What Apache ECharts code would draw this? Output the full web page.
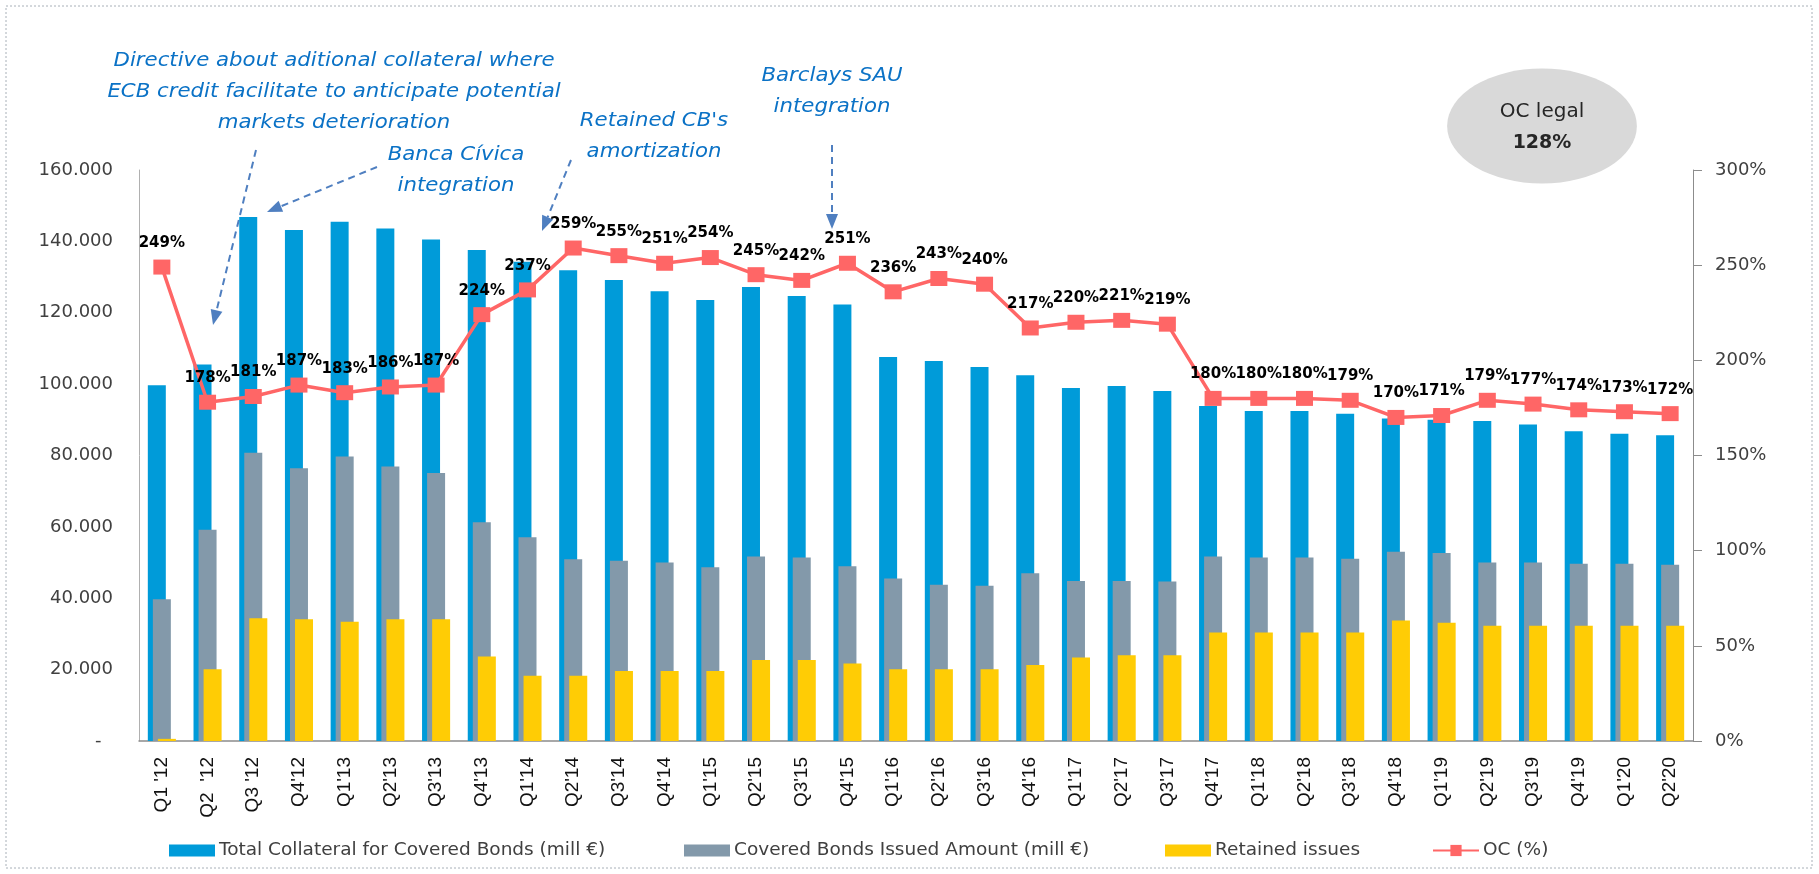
<!DOCTYPE html>
<html>
<head>
<meta charset="utf-8">
<title>Covered Bonds collateral</title>
<script src="https://cdn.jsdelivr.net/npm/echarts@6/dist/echarts.min.js"></script>
<style>
  html, body { margin: 0; padding: 0; background: #fff; }
  #chart { width: 1819px; height: 874px; }
</style>
</head>
<body>
<div id="chart"></div>
<script>
// quarters on the x axis
const categories = ["Q1 '12", "Q2  '12", "Q3 '12", "Q4'12", "Q1'13", "Q2'13", "Q3'13", "Q4'13",
  "Q1'14", "Q2'14", "Q3'14", "Q4'14", "Q1'15", "Q2'15", "Q3'15", "Q4'15",
  "Q1'16", "Q2'16", "Q3'16", "Q4'16", "Q1'17", "Q2'17", "Q3'17", "Q4'17",
  "Q1'18", "Q2'18", "Q3'18", "Q4'18", "Q1'19", "Q2'19", "Q3'19", "Q4'19",
  "Q1'20", "Q2'20"];

// mill €
const totalCollateral = [99700, 105500, 146800, 143200, 145500, 143600, 140500, 137600,
  134300, 131900, 129200, 126000, 123600, 127200, 124700, 122300,
  107600, 106500, 104800, 102500, 98900, 99500, 98100, 93900,
  92500, 92500, 91700, 90400, 90000, 89700, 88700, 86800,
  86100, 85700];

const issuedAmount = [39700, 59200, 80800, 76400, 79700, 76900, 75100, 61300,
  57100, 50900, 50500, 50000, 48700, 51700, 51400, 49000,
  45500, 43800, 43500, 47000, 44800, 44800, 44700, 51700,
  51400, 51400, 51100, 53000, 52700, 50000, 50000, 49700,
  49700, 49400];

const retainedIssues = [600, 20100, 34400, 34100, 33400, 34100, 34100, 23700,
  18300, 18300, 19600, 19600, 19600, 22700, 22700, 21700,
  20100, 20100, 20100, 21300, 23400, 24000, 24000, 30400,
  30400, 30400, 30400, 33800, 33100, 32300, 32300, 32300,
  32300, 32300];

// OC (%)
const ocPct = [249, 178, 181, 187, 183, 186, 187, 224,
  237, 259, 255, 251, 254, 245, 242, 251,
  236, 243, 240, 217, 220, 221, 219, 180,
  180, 180, 179, 170, 171, 179, 177, 174,
  173, 172];

const seriesNames = ['Total Collateral for Covered Bonds (mill €)', 'Covered Bonds Issued Amount (mill €)', 'Retained issues', 'OC (%)'];

const annoColor = '#0B72C6';
const arrowColor = '#4F7FC0';

// dashed arrow with filled head, for the text notes
function arrow(x1, y1, x2, y2) {
  const a = Math.atan2(y2 - y1, x2 - x1);
  const L = 15, W = 6;
  const bx = x2 - L * Math.cos(a), by = y2 - L * Math.sin(a);
  return [
    { type: 'line', shape: { x1: x1, y1: y1, x2: bx, y2: by },
      style: { stroke: arrowColor, lineWidth: 2, lineDash: [7, 5] } },
    { type: 'polygon',
      shape: { points: [[x2, y2], [bx + W * Math.sin(a), by - W * Math.cos(a)], [bx - W * Math.sin(a), by + W * Math.cos(a)]] },
      style: { fill: arrowColor } }
  ];
}

function note(x, y, text, sx) {
  return {
    type: 'text', x: x, y: y, scaleX: sx,
    style: {
      text: text, fill: annoColor, align: 'center', verticalAlign: 'middle',
      font: 'oblique 19px "DejaVu Sans"', lineHeight: 31
    }
  };
}

const legendBase = {
  top: 836, itemWidth: 46, itemHeight: 12,
  textStyle: { fontFamily: 'DejaVu Sans', fontSize: 18.5, color: '#404040', padding: [0, 0, 0, -1] }
};

const chart = echarts.init(document.getElementById('chart'));

const option = {
  backgroundColor: '#fff',
  animation: false,
  grid: { left: 139, right: 126, top: 170, bottom: 133 },
  legend: [
    Object.assign({}, legendBase, { left: 164, data: [{ name: seriesNames[0], icon: 'rect' }] }),
    Object.assign({}, legendBase, { left: 679, data: [{ name: seriesNames[1], icon: 'rect' }] }),
    Object.assign({}, legendBase, { left: 1160, data: [{ name: seriesNames[2], icon: 'rect' }] }),
    Object.assign({}, legendBase, { left: 1427, itemHeight: 14, data: [seriesNames[3]] })
  ],
  xAxis: {
    type: 'category',
    data: categories,
    axisLine: { lineStyle: { color: '#8C8C8C', width: 1.5 } },
    axisTick: { show: false },
    axisLabel: {
      rotate: 90, margin: 16, interval: 0,
      fontFamily: 'Liberation Sans', fontSize: 19, color: '#111'
    }
  },
  yAxis: [
    {
      type: 'value', min: 0, max: 160000, interval: 20000,
      axisLine: { show: true, lineStyle: { color: '#B0B0B0' } },
      axisTick: { show: false },
      splitLine: { show: false },
      axisLabel: {
        margin: 26, fontFamily: 'DejaVu Sans', fontSize: 18, color: '#404040',
        formatter: function (v) { return v === 0 ? '-  ' : (v / 1000).toFixed(3); }
      }
    },
    {
      type: 'value', min: 0, max: 300, interval: 50, position: 'right',
      axisLine: { show: true, lineStyle: { color: '#8C8C8C' } },
      axisTick: { show: true, length: 9, lineStyle: { color: '#8C8C8C' } },
      splitLine: { show: false },
      axisLabel: {
        margin: 22, fontFamily: 'DejaVu Sans', fontSize: 18, color: '#404040',
        formatter: '{value}%'
      }
    }
  ],
  series: [
    {
      name: seriesNames[0], type: 'bar', data: totalCollateral,
      barWidth: 18, barGap: '-72%',
      itemStyle: { color: '#009BD9' }
    },
    {
      name: seriesNames[1], type: 'bar', data: issuedAmount,
      barWidth: 18, barGap: '-72%',
      itemStyle: { color: '#8399AA' }
    },
    {
      name: seriesNames[2], type: 'bar', data: retainedIssues,
      barWidth: 18, barGap: '-72%',
      itemStyle: { color: '#FFCC05' }
    },
    {
      name: seriesNames[3], type: 'line', yAxisIndex: 1, data: ocPct, z: 5,
      symbol: 'rect', symbolSize: [17, 15],
      lineStyle: { color: '#FF6666', width: 3.5 },
      itemStyle: { color: '#FF6666' },
      label: {
        show: true, position: 'top', distance: 9,
        fontFamily: 'DejaVu Sans', fontWeight: 'bold', fontSize: 15, color: '#000',
        formatter: '{c}%'
      }
    }
  ],
  graphic: [
    { type: 'rect', shape: { x: 6, y: 6, width: 1806, height: 862 }, silent: true,
      style: { fill: null, stroke: '#A8B0B8', lineWidth: 1, lineDash: [2, 2] } },
    { type: 'circle', x: 1542, y: 126, scaleX: 1.65, shape: { cx: 0, cy: 0, r: 57.5 },
      style: { fill: '#D9D9D9' } },
    { type: 'text', x: 1542, y: 112,
      style: { text: 'OC legal', align: 'center', verticalAlign: 'middle', fill: '#262626',
        font: '20px "DejaVu Sans"' } },
    { type: 'text', x: 1542, y: 143,
      style: { text: '128%', align: 'center', verticalAlign: 'middle', fill: '#262626',
        font: 'bold 19px "DejaVu Sans"' } },
    note(334, 92, 'Directive about aditional collateral where\nECB credit facilitate to anticipate potential\nmarkets deterioration', 1.12),
    note(456, 171, 'Banca Cívica\nintegration', 1.12),
    note(654, 137, "Retained CB's\namortization", 1.12),
    note(832, 92, 'Barclays SAU\nintegration', 1.12)
  ].concat(arrow(256, 150, 213, 325), arrow(377, 167, 267, 212), arrow(571, 160, 542, 231), arrow(832, 145, 832, 229))
};

chart.setOption(option);
</script>
</body>
</html>
